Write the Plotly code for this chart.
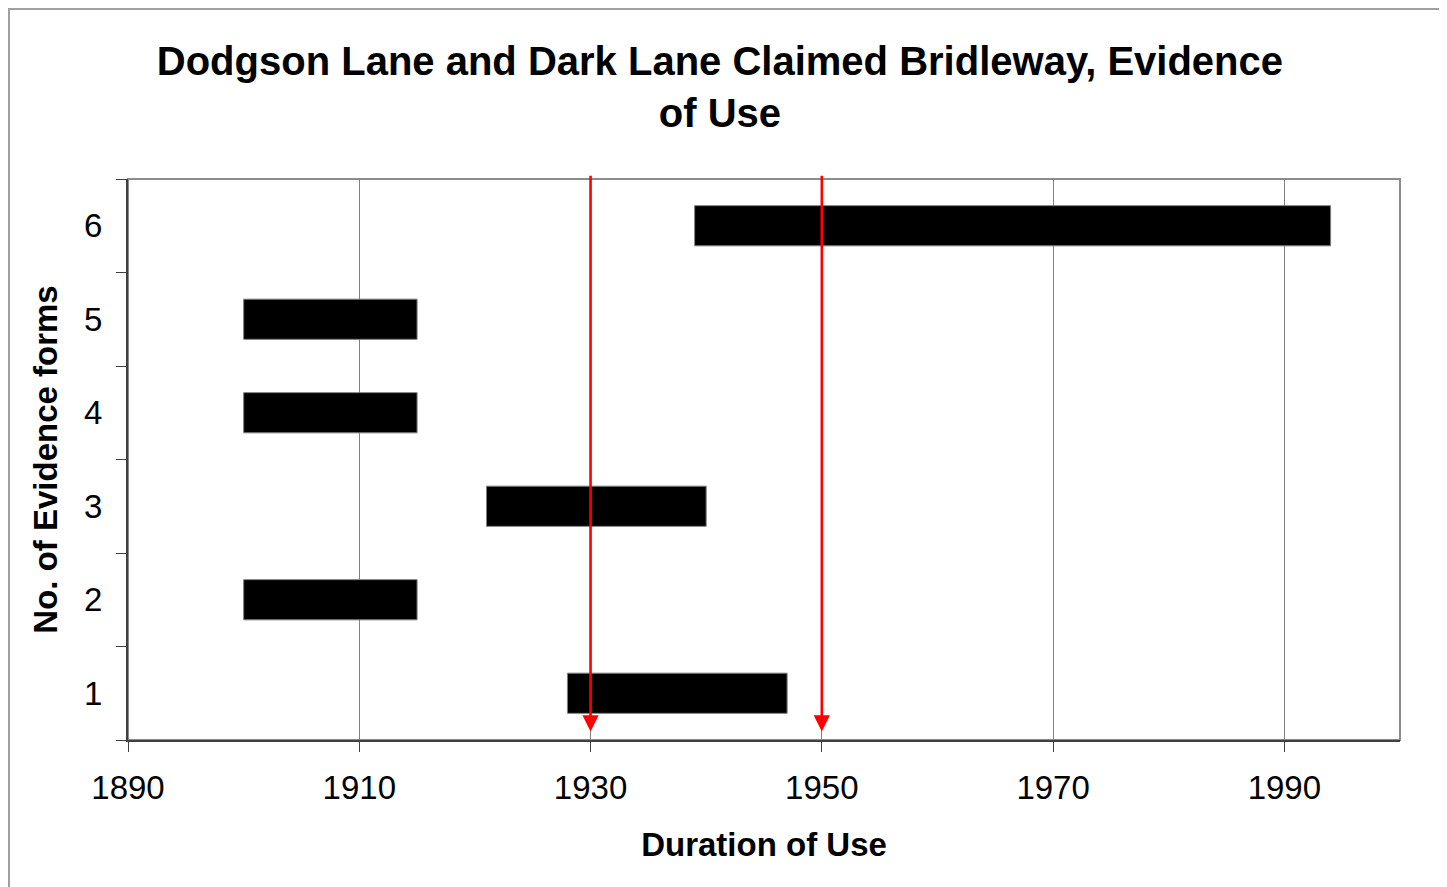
import plotly.graph_objects as go

# Data
categories = ["1", "2", "3", "4", "5", "6"]
start_years = [1928, 1900, 1921, 1900, 1900, 1939]
end_years = [1947, 1915, 1940, 1915, 1915, 1994]
marker_years = [1930, 1950]
x_tick_vals = [1890, 1910, 1930, 1950, 1970, 1990]

durations = [e - s for s, e in zip(start_years, end_years)]

FONT = "Liberation Sans, Arial, sans-serif"

W, H = 1447, 887
ML, MR, MT, MB = 120, 55, 171, 155
PW, PH = W - ML - MR, H - MT - MB

fig = go.Figure()
fig.add_trace(go.Bar(
    y=categories,
    x=durations,
    base=start_years,
    orientation="h",
    width=0.43,
    marker=dict(color="black", line=dict(color="#808080", width=1)),
    showlegend=False,
    hoverinfo="skip",
))

annotations = []
for yr in marker_years:
    annotations.append(dict(
        x=yr, y=-0.41, xref="x", yref="y",
        ax=yr, ay=5.55, axref="x", ayref="y",
        showarrow=True, arrowhead=2, arrowsize=1.25, arrowwidth=2.6,
        arrowcolor="#ff0000", text="",
    ))

fig.update_layout(
    width=W, height=H,
    paper_bgcolor="white", plot_bgcolor="white",
    margin=dict(l=ML, r=MR, t=MT, b=MB),
    title=dict(
        text="<b>Dodgson Lane and Dark Lane Claimed Bridleway, Evidence<br>of Use</b>",
        x=0.492, xanchor="center", y=0.925, yanchor="top",
        font=dict(family=FONT, size=40, color="black"),
    ),
    font=dict(family=FONT, size=33, color="black"),
    annotations=annotations,
    shapes=[
        dict(type="rect", xref="paper", yref="paper", x0=0, y0=0, x1=1, y1=1,
             line=dict(color="#8c8c8c", width=2), layer="below"),
        dict(type="rect", xref="paper", yref="paper",
             x0=(1 - ML) / PW, y1=1 + (MT - 1) / PH,
             x1=1 + (MR + 20) / PW, y0=-(MB + 20) / PH,
             line=dict(color="#a0a0a0", width=2), layer="below"),
    ],
)

fig.update_xaxes(
    range=[1890, 2000],
    tickvals=x_tick_vals,
    ticks="outside", ticklen=10, tickcolor="#404040", tickwidth=1,
    ticklabelstandoff=7,
    showgrid=True, gridcolor="#808080", gridwidth=1,
    showline=True, linecolor="#404040", linewidth=2,
    zeroline=False,
    tickfont=dict(family=FONT, size=33, color="black"),
    title=dict(text="<b>Duration of Use</b>", standoff=28,
               font=dict(family=FONT, size=33, color="black")),
)

fig.update_yaxes(
    type="category",
    categoryorder="array", categoryarray=categories,
    range=[-0.5, 5.5],
    tickson="boundaries",
    ticks="outside", ticklen=10, tickcolor="#404040", tickwidth=1,
    ticklabelstandoff=17,
    showgrid=False,
    showline=True, linecolor="#404040", linewidth=2,
    tickfont=dict(family=FONT, size=33, color="black"),
    title=dict(text="<b>No. of Evidence forms</b>", standoff=16,
               font=dict(family=FONT, size=33, color="black")),
)

fig.write_html("out.html")
